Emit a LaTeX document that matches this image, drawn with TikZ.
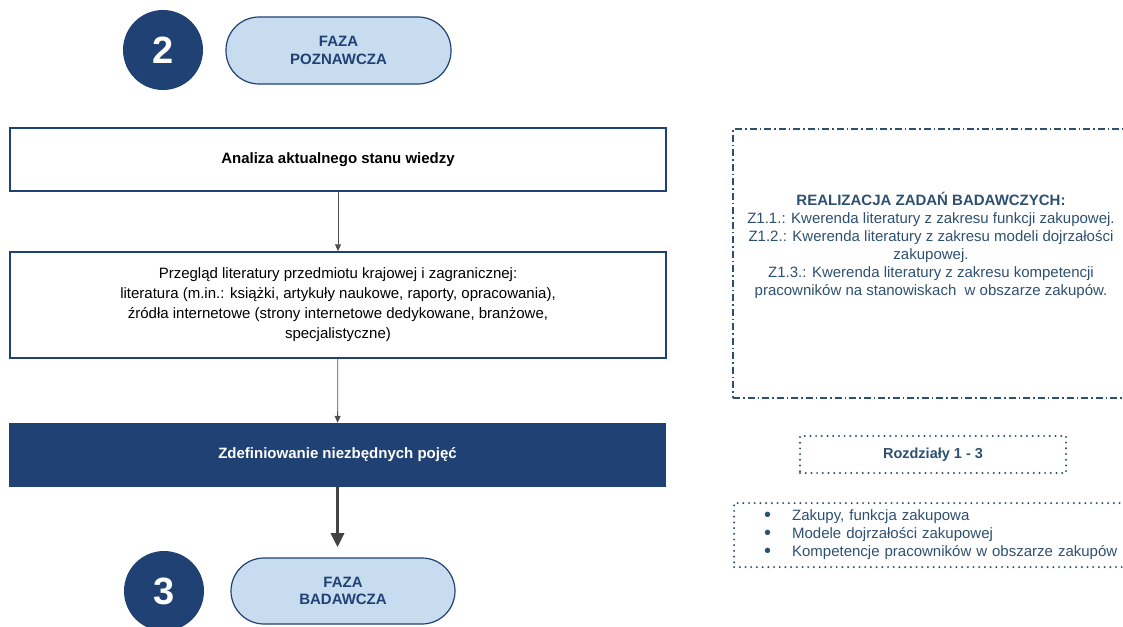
\documentclass[tikz,border=0pt]{standalone}
\usepackage{fontspec}
\setmainfont{Liberation Sans}
\usepackage{tikz}
\usepackage{xcolor}
\usetikzlibrary{shapes.geometric, arrows.meta}
\definecolor{navy}{HTML}{1F4173}
\definecolor{paleblue}{HTML}{C8DCF0}
\definecolor{inkblue}{HTML}{2E5070}
\definecolor{arrowgray}{HTML}{505050}
\newcommand{\listdot}{\makebox[28pt][l]{\raisebox{-0.5pt}{\fontsize{20}{18}\selectfont\textbullet}}}
\tikzstyle{phase} = [circle, 
minimum size=80pt, 
fill=navy, 
text=white, 
font=\bfseries\fontsize{38}{38}\selectfont]
\tikzstyle{pill} = [rectangle, rounded corners=33pt, 
minimum width=225pt, 
minimum height=67pt, 
draw=navy, line width=1.2pt, 
fill=paleblue, 
text=navy, align=center, 
font=\bfseries\fontsize{15}{17.5}\selectfont]
\tikzstyle{process} = [rectangle, 
minimum width=656pt, 
draw=navy, line width=1.5pt, 
fill=white, align=center, 
font=\fontsize{15}{20}\selectfont]
\tikzstyle{keystep} = [rectangle, 
minimum width=657pt, 
minimum height=64pt, 
fill=navy, text=white, 
font=\bfseries\fontsize{15}{17}\selectfont]
\tikzstyle{dashdotbox} = [rectangle, 
draw=inkblue, line width=1.5pt, 
dash pattern=on 7pt off 3pt on 1.5pt off 3pt]
\tikzstyle{dotbox} = [rectangle, 
draw=inkblue, line width=2.2pt, line cap=round, 
dash pattern=on 0pt off 5.7pt]
\tikzstyle{note} = [text=inkblue, align=center, 
font=\fontsize{15}{18}\selectfont]
\tikzstyle{arrow} = [draw=arrowgray, line width=0.8pt, -{Triangle[length=7pt, width=6pt]}]
\tikzstyle{bigarrow} = [draw=arrowgray!85!black, line width=3pt, -{Triangle[length=14pt, width=13pt]}]

\begin{document}
\begin{tikzpicture}[x=1pt, y=-1pt]
        \useasboundingbox (0,0) rectangle (1123,626);

        \node (num2) [phase] at (163,50) {2};
        \node (faza2) [pill] at (338.5,50.5) {FAZA\\POZNAWCZA};

        \node (analiza) [process, minimum height=63pt, font=\bfseries\fontsize{15}{17}\selectfont] at (338,159.5) {Analiza aktualnego stanu wiedzy};
        \node (przeglad) [process, minimum height=106pt] at (338,305) {Przegląd literatury przedmiotu krajowej i zagranicznej:\\
        literatura (m.in.: książki, artykuły naukowe, raporty, opracowania),\\
        źródła internetowe (strony internetowe dedykowane, branżowe,\\
        specjalistyczne)};
        \node (pojecia) [keystep] at (337.5,455) {Zdefiniowanie niezbędnych pojęć};

        \node (num3) [phase] at (164,591) {3};
        \node (faza3) [pill, minimum width=224pt, minimum height=66pt] at (343,591) {FAZA\\BADAWCZA};

        \node (realframe) [dashdotbox, minimum width=392pt, minimum height=269pt] at (929,263.5) {};
        \node (realtext) [note] at (931,245) {\textbf{REALIZACJA ZADAŃ BADAWCZYCH:}\\
        Z1.1.: Kwerenda literatury z zakresu funkcji zakupowej.\\
        Z1.2.: Kwerenda literatury z zakresu modeli dojrzałości\\
        zakupowej.\\
        Z1.3.: Kwerenda literatury z zakresu kompetencji\\
        pracowników na stanowiskach\ \ w obszarze zakupów.};

        \node (rozdzialy) [dotbox, note, minimum width=266pt, minimum height=37pt, font=\bfseries\fontsize{14.5}{16}\selectfont] at (933,454.5) {Rozdziały 1 - 3};

        \node (zakres) [dotbox, note, anchor=north west, align=left, text width=380pt, inner xsep=30pt, minimum height=64pt] at (733,502) {\listdot Zakupy, funkcja zakupowa\\
        \listdot Modele dojrzałości zakupowej\\
        \listdot Kompetencje pracowników w obszarze zakupów};

        \draw [arrow] (analiza) -- (przeglad);
        \draw [arrow] (przeglad) -- (pojecia);
        \draw [bigarrow] (pojecia.south) -- ++(0,60);

    \end{tikzpicture}
\end{document}
